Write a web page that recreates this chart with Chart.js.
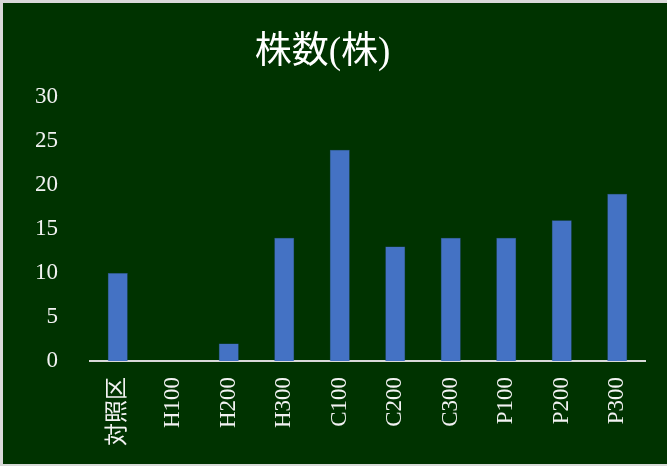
<!DOCTYPE html>
<html>
<head>
<meta charset="utf-8">
<script src="https://cdn.jsdelivr.net/npm/chart.js@4/dist/chart.umd.min.js"></script>
<style>
  body { margin: 0; background: #d9d9d9; }
  #wrap { width: 667px; height: 466px; }
</style>
</head>
<body>
<div id="wrap"><canvas id="myChart"></canvas></div>
<script>
var categories = ["対照区", "H100", "H200", "H300", "C100", "C200", "C300", "P100", "P200", "P300"];
var counts = [10, 0, 2, 14, 24, 13, 14, 14, 16, 19];
var yTicks = [0, 5, 10, 15, 20, 25, 30];

var serif = "'Liberation Serif', 'DejaVu Serif', 'Noto Sans CJK JP', serif";

// dark green board with light edge
var boardBg = {
  id: 'boardBg',
  beforeDraw: function(chart) {
    var ctx = chart.ctx;
    ctx.save();
    ctx.fillStyle = '#d9d9d9';
    ctx.fillRect(0, 0, chart.width, chart.height);
    ctx.fillStyle = '#003300';
    ctx.fillRect(3, 3, chart.width - 3, chart.height - 5);
    ctx.restore();
  }
};

var ctx = document.getElementById('myChart');
var myChart = new Chart(ctx, {
  type: 'bar',
  data: {
    labels: categories,
    datasets: [{
      label: '株数(株)',
      data: counts,
      backgroundColor: '#4472C4',
      borderColor: '#2F528F',
      borderWidth: 0.5,
      barPercentage: 0.36,
      categoryPercentage: 1
    }]
  },
  options: {
    responsive: true,
    maintainAspectRatio: false,
    animation: false,
    layout: {
      padding: { left: 0, right: 22, top: 0, bottom: 0 }
    },
    plugins: {
      legend: { display: false },
      tooltip: { enabled: false },
      title: {
        display: true,
        text: '株数(株)',
        color: '#ffffff',
        font: { family: serif, size: 37, weight: 'normal' },
        padding: { top: 31, bottom: 21.6 }
      }
    },
    scales: {
      x: {
        grid: { display: false, drawTicks: false },
        border: { display: true, color: '#d9d9d9', width: 2 },
        ticks: {
          color: '#f2f2f2',
          font: { family: serif, size: 23 },
          minRotation: 90,
          maxRotation: 90,
          padding: 16
        },
        afterFit: function(scale) { scale.height = 105; }
      },
      y: {
        min: 0,
        max: 30,
        grid: { display: false, drawTicks: false },
        border: { display: false },
        afterBuildTicks: function(scale) {
          scale.ticks = yTicks.map(function(v) { return { value: v }; });
        },
        ticks: {
          color: '#f2f2f2',
          font: { family: serif, size: 23 },
          padding: 32
        },
        afterFit: function(scale) { scale.width = 90; }
      }
    }
  },
  plugins: [boardBg]
});
</script>
</body>
</html>
